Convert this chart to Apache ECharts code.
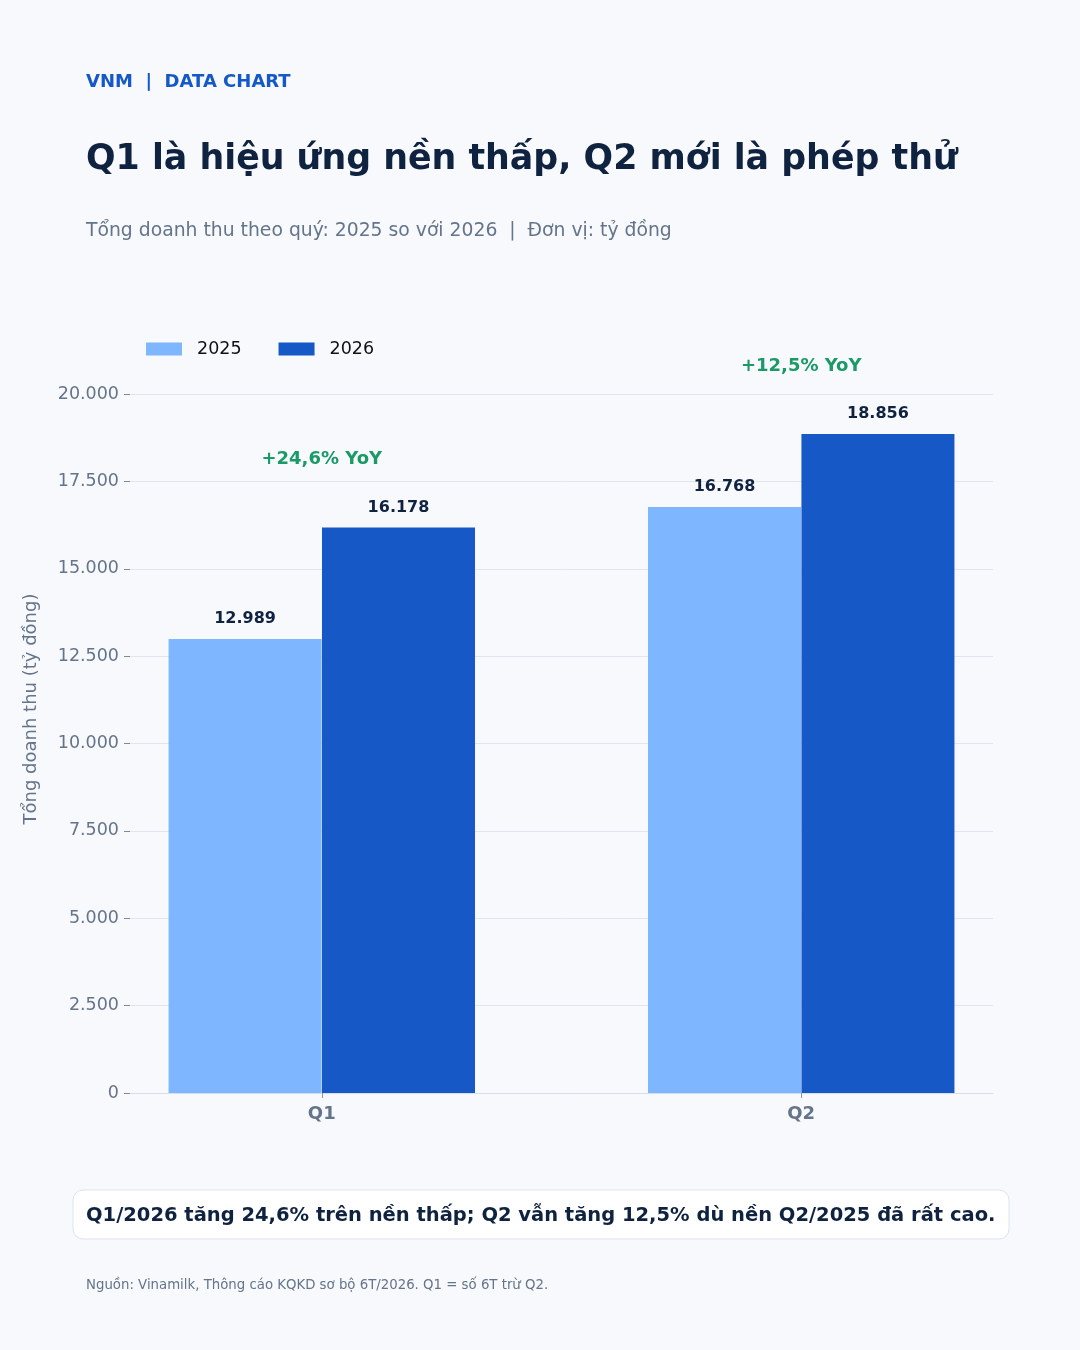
<!DOCTYPE html>
<html>
<head>
<meta charset="utf-8">
<script src="https://cdn.jsdelivr.net/npm/echarts@6/dist/echarts.min.js"></script>
<style>
	html, body { margin: 0; padding: 0; background: #f7f9fc; }
	#chart { width: 1080px; height: 1350px; }
</style>
</head>
<body>
<div id="chart"></div>
<script>
	// dữ liệu
	const categories = ['Q1', 'Q2']
	const years = ['2025', '2026']
	const revenue2025 = [12989, 16768]
	const revenue2026 = [16178, 18856]
	const yTicks = [0, 2500, 5000, 7500, 10000, 12500, 15000, 17500, 20000]

	const FONT = 'DejaVu Sans'
	const fmt = v => Math.round(v).toString().replace(/\B(?=(\d{3})+(?!\d))/g, '.')
	const yoyText = (a, b) => '+' + ((b / a - 1) * 100).toFixed(1).replace('.', ',') + '% YoY'

	const myChart = echarts.init(document.getElementById('chart'))

	const barLabel = {
		show: true,
		position: 'top',
		distance: 12,
		fontFamily: FONT,
		fontSize: 16,
		fontWeight: 'bold',
		color: '#0f2341',
		formatter: p => fmt(p.value[1])
	}

	const option = {
		backgroundColor: '#f7f9fc',
		animation: false,
		textStyle: { fontFamily: FONT },
		graphic: [
			{ type: 'text', left: 86, top: 73, style: { text: 'VNM  |  DATA CHART', font: 'bold 18px "DejaVu Sans"', fill: '#1558c8' } },
			{ type: 'text', left: 86, top: 142, style: { text: 'Q1 là hiệu ứng nền thấp, Q2 mới là phép thử', font: 'bold 34.8px "DejaVu Sans"', fill: '#0f2341' } },
			{ type: 'text', left: 86, top: 222, style: { text: 'Tổng doanh thu theo quý: 2025 so với 2026  |  Đơn vị: tỷ đồng', font: '18.8px "DejaVu Sans"', fill: '#64748b' } },
			{ type: 'text', x: 31, y: 709, rotation: Math.PI / 2, style: { text: 'Tổng doanh thu (tỷ đồng)', font: '18px "DejaVu Sans"', fill: '#64748b', align: 'center', verticalAlign: 'middle' } },
			{ type: 'rect', shape: { x: 73, y: 1190, width: 936, height: 49, r: 10 }, style: { fill: '#ffffff', stroke: '#dde3ee', lineWidth: 1 } },
			{ type: 'text', left: 86, top: 1206, style: { text: 'Q1/2026 tăng 24,6% trên nền thấp; Q2 vẫn tăng 12,5% dù nền Q2/2025 đã rất cao.', font: 'bold 19.5px "DejaVu Sans"', fill: '#0f2341' } },
			{ type: 'text', left: 86, top: 1279, style: { text: 'Nguồn: Vinamilk, Thông cáo KQKD sơ bộ 6T/2026. Q1 = số 6T trừ Q2.', font: '13.3px "DejaVu Sans"', fill: '#64748b' } }
		],
		legend: {
			data: years,
			left: 141,
			top: 335,
			icon: 'rect',
			itemWidth: 36,
			itemHeight: 13,
			itemGap: 37,
			textStyle: { fontFamily: FONT, fontSize: 17.5, color: '#111111', padding: [0, 0, 0, 10] }
		},
		grid: { left: 130, right: 87, top: 394, bottom: 257 },
		xAxis: {
			type: 'value',
			min: -0.4,
			max: 1.4,
			splitLine: { show: false },
			axisLine: { show: true, lineStyle: { color: '#d5deea' } },
			axisTick: { show: true, customValues: [0, 1], length: 5, lineStyle: { color: '#8a97aa' } },
			axisLabel: {
				customValues: [0, 1],
				formatter: v => categories[Math.round(v)],
				fontFamily: FONT,
				fontSize: 18,
				fontWeight: 'bold',
				color: '#64748b',
				margin: 12
			}
		},
		yAxis: {
			type: 'value',
			min: 0,
			max: 20000,
			interval: 2500,
			axisLine: { show: false, onZero: false },
			axisTick: { show: true, length: 6, lineStyle: { color: '#7d8a9e' } },
			splitLine: { lineStyle: { color: '#dfe6f0' } },
			axisLabel: {
				formatter: v => yTicks.includes(v) ? fmt(v) : '',
				fontFamily: FONT,
				fontSize: 17.5,
				color: '#64748b',
				margin: 11
			}
		},
		series: [
			{
				name: years[0],
				type: 'bar',
				barWidth: 153,
				barGap: '-100%',
				itemStyle: { color: '#7eb6ff' },
				label: barLabel,
				data: revenue2025.map((v, i) => [i - 0.16, v])
			},
			{
				name: years[1],
				type: 'bar',
				barWidth: 153,
				barGap: '-100%',
				itemStyle: { color: '#1558c6' },
				label: barLabel,
				data: revenue2026.map((v, i) => [i + 0.16, v])
			},
			{
				type: 'scatter',
				symbolSize: 0,
				clip: false,
				silent: true,
				label: {
					show: true,
					position: 'inside',
					fontFamily: FONT,
					fontSize: 18,
					fontWeight: 'bold',
					color: '#1b9a67',
					opacity: 1,
					formatter: p => yoyText(revenue2025[p.dataIndex], revenue2026[p.dataIndex])
				},
				data: categories.map((c, i) => [i, Math.max(revenue2025[i], revenue2026[i]) + 1940])
			}
		]
	}

	myChart.setOption(option)
</script>
</body>
</html>
